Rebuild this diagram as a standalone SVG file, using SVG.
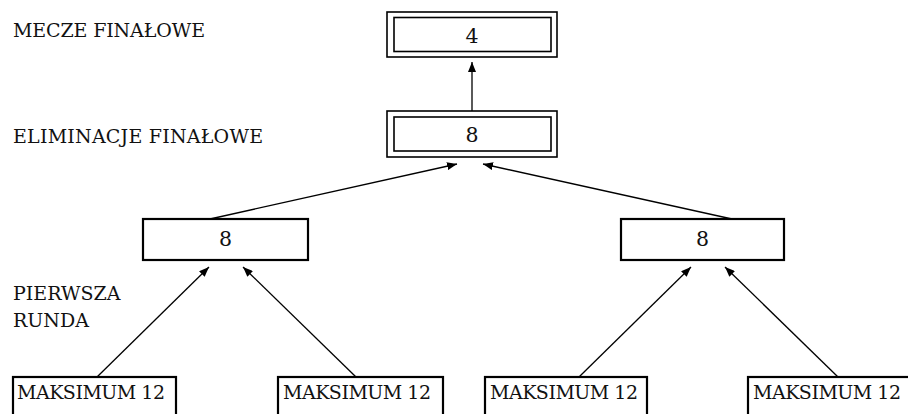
<svg xmlns="http://www.w3.org/2000/svg" width="908" height="414" viewBox="0 0 908 414">
<style>
text{font-family:'DejaVu Serif',serif;font-size:19px;fill:#111}
.c{text-anchor:middle;font-size:20.5px}
.box{fill:#fff;stroke:#000;stroke-width:2.2}
.dbl{fill:#fff;stroke:#000;stroke-width:1.6}
.ln{stroke:#000;stroke-width:1.3;fill:none}
</style>
<defs>
<marker id="ah" viewBox="0 0 10 8" refX="10" refY="4" markerWidth="10" markerHeight="8" markerUnits="userSpaceOnUse" orient="auto">
<path d="M0,0 L10,4 L0,8 Z" fill="#000"/>
</marker>
</defs>
<g id="labels">
<text x="13" y="37" textLength="192">MECZE FINAŁOWE</text>
<text x="13" y="143" textLength="250">ELIMINACJE FINAŁOWE</text>
<text x="13" y="300">PIERWSZA</text>
<text x="13" y="327">RUNDA</text>
</g>
<g id="connectors">
<line class="ln" x1="472" y1="111" x2="472" y2="62" marker-end="url(#ah)"/>
<line class="ln" x1="210" y1="219" x2="457" y2="164" marker-end="url(#ah)"/>
<line class="ln" x1="732" y1="219" x2="483" y2="164" marker-end="url(#ah)"/>
<line class="ln" x1="97" y1="377" x2="209" y2="267" marker-end="url(#ah)"/>
<line class="ln" x1="356" y1="377" x2="243" y2="267" marker-end="url(#ah)"/>
<line class="ln" x1="579" y1="377" x2="691" y2="267" marker-end="url(#ah)"/>
<line class="ln" x1="838" y1="377" x2="725" y2="267" marker-end="url(#ah)"/>
</g>
<g id="n-final">
<rect class="dbl" x="387" y="12" width="170" height="45"/>
<rect class="dbl" x="394" y="17.5" width="157" height="34"/>
<text class="c" x="472" y="43">4</text>
</g>
<g id="n-elim">
<rect class="dbl" x="387" y="111" width="170" height="46"/>
<rect class="dbl" x="394" y="117" width="157" height="34"/>
<text class="c" x="472" y="142">8</text>
</g>
<g id="n-left">
<rect class="box" x="143" y="219" width="165" height="41"/>
<text class="c" x="225.5" y="246">8</text>
</g>
<g id="n-right">
<rect class="box" x="621" y="219" width="163" height="41"/>
<text class="c" x="702.5" y="246">8</text>
</g>
<g id="n-b1">
<rect class="box" x="13" y="377" width="163" height="41"/>
<text x="17" y="399" textLength="148">MAKSIMUM 12</text>
</g>
<g id="n-b2">
<rect class="box" x="278" y="377" width="165" height="41"/>
<text x="283" y="399" textLength="148">MAKSIMUM 12</text>
</g>
<g id="n-b3">
<rect class="box" x="485" y="377" width="162" height="41"/>
<text x="490" y="399" textLength="148">MAKSIMUM 12</text>
</g>
<g id="n-b4">
<rect class="box" x="748" y="377" width="164" height="41"/>
<text x="753" y="399" textLength="148">MAKSIMUM 12</text>
</g>
</svg>
